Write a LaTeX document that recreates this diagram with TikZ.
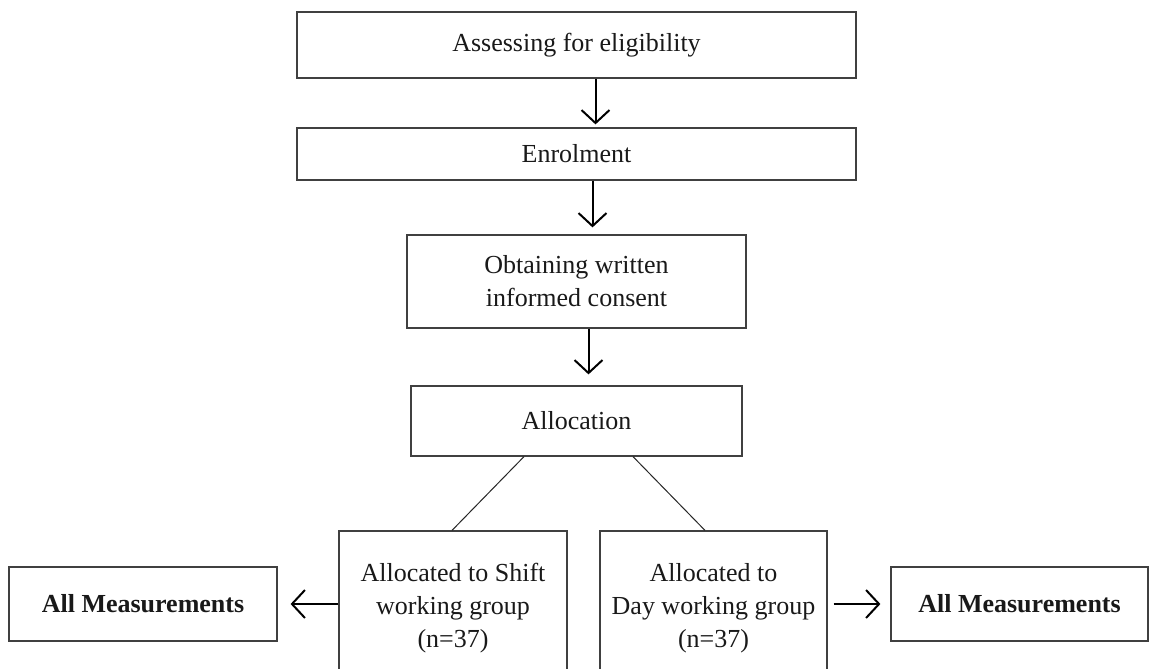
\documentclass[tikz,border=0pt]{standalone}
\usepackage{fontspec}
\setmainfont{Liberation Serif}
\usepackage{tikz}
\usetikzlibrary{arrows.meta, positioning}

\begin{document}
\begin{tikzpicture}[
    x=0.5pt,
    y=-0.5pt,
    font=\fontsize{13}{16.5}\selectfont,
    box/.style={
        draw=black!75,
        line width=0.6pt,
        inner sep=0pt,
        align=center,
        text=black!90
    },
    flow/.style={
        -{Straight Barb[length=6.5pt,width=14pt,line width=1pt]},
        line width=1pt,
        black
    },
    split/.style={
        line width=0.5pt,
        black!85
    }
]

% Ramme
\useasboundingbox (0,0) rectangle (1152,669);
\clip (0,0) rectangle (1152,669);

% Forløbet
\node[box, minimum width=279.5pt, minimum height=33pt] (elig)
    at (576.5,45) {Assessing for eligibility};

\node[box, minimum width=279.5pt, minimum height=26pt] (enrol)
    at (576.5,154) {Enrolment};

\node[box, minimum width=169.5pt, minimum height=46.5pt] (consent)
    at (576.5,281.5) {Obtaining written\\informed consent};

\node[box, minimum width=165.5pt, minimum height=35pt] (alloc)
    at (576.5,421) {Allocation};

\draw[flow, shorten >=1.5pt] ([xshift=9.5pt]elig.south) -- ([xshift=9.5pt]enrol.north);
\draw[flow, shorten >=3.5pt] ([xshift=8pt]enrol.south) -- ([xshift=8pt]consent.north);
\draw[flow, shorten >=5.5pt] ([xshift=6pt]consent.south) -- ([xshift=6pt]alloc.north);

% Grupperne
\node[box, minimum width=114pt, minimum height=77pt] (shift)
    at (453,608) {Allocated to Shift\\working group\\(n=37)};

\node[box, minimum width=113.5pt, minimum height=77pt] (day)
    at (713.5,608) {Allocated to\\Day working group\\(n=37)};

\draw[split] ([xshift=-26.25pt]alloc.south) -- ([xshift=-0.5pt]shift.north);
\draw[split] ([xshift=28.25pt]alloc.south) -- ([xshift=-4.25pt]day.north);

% Målinger
\node[box, minimum width=134pt, minimum height=37pt] (measL)
    at (143,604) {\textbf{All Measurements}};

\node[box, minimum width=128.5pt, minimum height=37pt] (measR)
    at (1019.5,604) {\textbf{All Measurements}};

\draw[flow, shorten >=6.5pt] (shift.west |- measL.east) -- (measL.east);
\draw[flow, shorten <=3pt, shorten >=5pt] (day.east |- measR.west) -- (measR.west);

\end{tikzpicture}
\end{document}
